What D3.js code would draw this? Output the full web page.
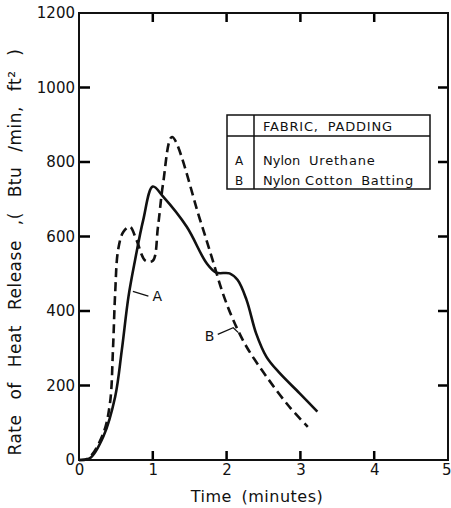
<!DOCTYPE html>
<html>
<head>
<meta charset="utf-8">
<script src="https://cdn.jsdelivr.net/npm/d3@7"></script>
<style>
  body { margin: 0; background: #fff; }
  text { font-family: "DejaVu Sans", sans-serif; fill: #111; }
</style>
</head>
<body>
<div id="chart"></div>
<script>
// Data
var timeA = [0, 0.15, 0.33, 0.49, 0.58, 0.67, 0.76, 0.87, 1.0, 1.14, 1.46, 1.73, 1.86, 2.04, 2.15, 2.27, 2.40, 2.54, 2.72, 2.99, 3.23];
var heatA = [0, 5, 63, 170, 295, 438, 537, 644, 734, 707, 626, 528, 503, 501, 483, 430, 340, 277, 233, 179, 130];

var timeB = [0, 0.13, 0.33, 0.42, 0.46, 0.49, 0.53, 0.60, 0.69, 0.78, 0.90, 1.0, 1.07, 1.14, 1.26, 1.64, 1.81, 1.95, 2.09, 2.27, 2.54, 2.85, 3.10];
var heatB = [0, 5, 72, 153, 295, 448, 564, 612, 626, 590, 535, 535, 626, 743, 867, 645, 537, 447, 376, 304, 224, 143, 89];

var xTicks = [0, 1, 2, 3, 4, 5];
var yTicks = [0, 200, 400, 600, 800, 1000, 1200];

var legendHeader = "FABRIC, PADDING";
var legendRows = [["A", "Nylon", "Urethane"], ["B", "Nylon", "Cotton Batting"]];

var svgWidth = 451;
var svgHeight = 508;
var margin = { top: 13, right: 3, bottom: 48, left: 79 };
var width = svgWidth - margin.left - margin.right;
var height = svgHeight - margin.top - margin.bottom;

var svg = d3.select("#chart")
  .append("svg")
  .attr("width", svgWidth)
  .attr("height", svgHeight);

var chartGroup = svg.append("g")
  .attr("transform", `translate(${margin.left}, ${margin.top})`);

var x = d3.scaleLinear().domain([0, 5]).range([0, width]);
var y = d3.scaleLinear().domain([0, 1200]).range([height, 0]);

// axes: labels only, tick marks drawn as paths below
var fmt = d3.format("d");
var leftAxis = d3.axisLeft(y).tickValues(yTicks).tickSize(0).tickPadding(4).tickFormat(fmt);
var bottomAxis = d3.axisBottom(x).tickValues(xTicks).tickSize(0).tickPadding(4).tickFormat(fmt);

function styleAxis(g) {
  g.select(".domain").remove();
  g.selectAll(".tick text").attr("font-family", "DejaVu Sans").attr("font-size", 15).attr("fill", "#111");
}

chartGroup.append("g").call(leftAxis).call(styleAxis);
chartGroup.append("g").attr("transform", `translate(0,${height})`).call(bottomAxis).call(styleAxis)
  .selectAll(".tick text").filter(d => d === 5).attr("text-anchor", "end").attr("dx", 3);

// inward tick marks on all four sides
var innerY = yTicks.filter(d => d > 0 && d < 1200);
var innerX = xTicks.filter(d => d > 0 && d < 5);
var tickPath = "";
innerY.forEach(function(d) {
  tickPath += `M0,${y(d)}h11 M${width},${y(d)}h-10 `;
});
innerX.forEach(function(d) {
  tickPath += `M${x(d)},${height}v-9 M${x(d)},0v9 `;
});
chartGroup.append("path")
  .attr("d", tickPath)
  .attr("fill", "none")
  .attr("stroke", "#000")
  .attr("stroke-width", 2.5);

// frame
chartGroup.append("rect")
  .attr("width", width)
  .attr("height", height)
  .attr("fill", "none")
  .attr("stroke", "#111")
  .attr("stroke-width", 2);

// axis titles
chartGroup.append("text")
  .attr("x", 178)
  .attr("y", height + 42)
  .attr("text-anchor", "middle")
  .attr("font-size", 16)
  .attr("letter-spacing", 0.5)
  .attr("word-spacing", 4)
  .text("Time  (minutes)");
svg.append("text")
  .attr("transform", "translate(21, 252) rotate(-90)")
  .attr("text-anchor", "middle")
  .attr("font-size", 17)
  .attr("letter-spacing", 0.5)
  .attr("word-spacing", 9)
  .text("Rate of Heat Release ,( Btu /min, ft² )");

// curves
var line = d3.line()
  .x(d => x(d[0]))
  .y(d => y(d[1]))
  .curve(d3.curveCatmullRom.alpha(0.5));

chartGroup.append("path")
  .datum(d3.zip(timeA, heatA))
  .attr("d", line)
  .attr("fill", "none")
  .attr("stroke", "#111")
  .attr("stroke-width", 2.6);

chartGroup.append("path")
  .datum(d3.zip(timeB, heatB))
  .attr("d", line)
  .attr("fill", "none")
  .attr("stroke", "#111")
  .attr("stroke-width", 2.6)
  .attr("stroke-dasharray", "9,5");

// curve labels with leaders
chartGroup.append("path")
  .attr("d", `M${x(0.94)},${y(440)} L${x(0.73)},${y(453)}`)
  .attr("stroke", "#111").attr("stroke-width", 1.3).attr("fill", "none");
chartGroup.append("text")
  .attr("x", x(1.06)).attr("y", y(440))
  .attr("dy", "0.35em").attr("text-anchor", "middle")
  .attr("font-size", 14).text("A");

chartGroup.append("path")
  .attr("d", `M${x(1.88)},${y(337)} L${x(2.09)},${y(355)} L${x(2.16)},${y(342)}`)
  .attr("stroke", "#111").attr("stroke-width", 1.3).attr("fill", "none");
chartGroup.append("text")
  .attr("x", x(1.77)).attr("y", y(333))
  .attr("dy", "0.35em").attr("text-anchor", "middle")
  .attr("font-size", 14).text("B");

// legend table
var lg = svg.append("g").attr("transform", "translate(227, 115)");
var lw = 203, lh = 74, colA = 27, headH = 21;
lg.append("rect").attr("width", lw).attr("height", lh)
  .attr("fill", "#fff").attr("stroke", "#111").attr("stroke-width", 1.5);
lg.append("line").attr("x1", colA).attr("x2", colA).attr("y1", 0).attr("y2", lh)
  .attr("stroke", "#111").attr("stroke-width", 1.5);
lg.append("line").attr("x1", 0).attr("x2", lw).attr("y1", headH).attr("y2", headH)
  .attr("stroke", "#111").attr("stroke-width", 1.5);
lg.append("text").attr("x", 36).attr("y", 16).attr("font-size", 13)
  .attr("letter-spacing", 0.8).attr("word-spacing", 4).text(legendHeader);
legendRows.forEach(function(r, i) {
  var ty = 50 + i * 20;
  lg.append("text").attr("x", 8).attr("y", ty).attr("font-size", 12).text(r[0]);
  lg.append("text").attr("x", 36).attr("y", ty).attr("font-size", 13).text(r[1]);
  lg.append("text").attr("x", i == 0 ? 82 : 78).attr("y", ty).attr("font-size", 13)
    .attr("letter-spacing", 0.8).attr("word-spacing", 3).text(r[2]);
});
</script>
</body>
</html>
